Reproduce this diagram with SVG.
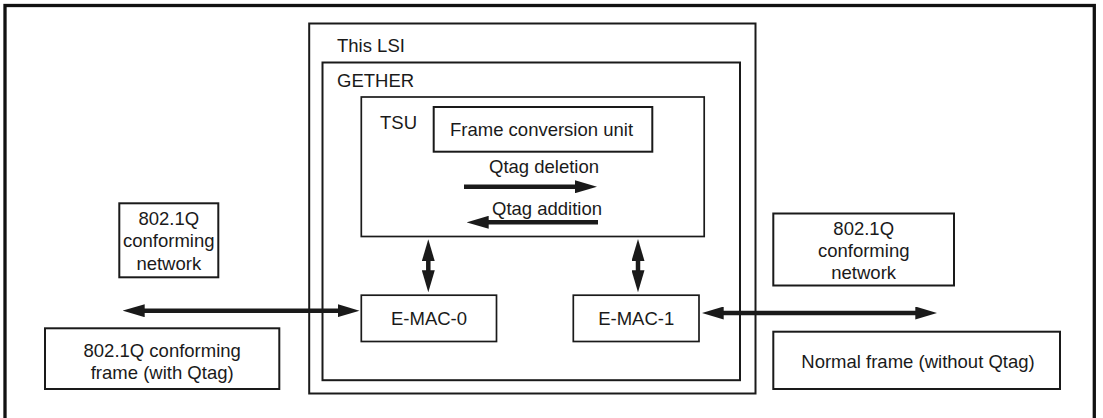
<svg xmlns="http://www.w3.org/2000/svg" width="1103" height="418" viewBox="0 0 1103 418">
<style>
  text { font-family: "Liberation Sans", Arial, Helvetica, sans-serif; font-size: 18.5px; fill: #1a1a1a; }
  .c { text-anchor: middle; }
  .box { fill: #ffffff; stroke: #1a1a1a; stroke-width: 2; }
  .thin { fill: #ffffff; stroke: #1a1a1a; stroke-width: 1.7; }
  .conn { stroke: #1a1a1a; stroke-width: 4.5; fill: none; }
</style>
<defs>
  <marker id="ah" markerUnits="userSpaceOnUse" markerWidth="22" markerHeight="13" viewBox="0 -6.5 22 13" refX="1" refY="0" orient="auto-start-reverse">
    <path d="M0,-6.5 L22,0 L0,6.5 z" fill="#1a1a1a"/>
  </marker>
</defs>
<rect width="1103" height="418" fill="#ffffff"/>
<g id="outer-frame">
  <rect x="5" y="5.5" width="1089.3" height="420" fill="none" stroke="#111" stroke-width="3.3"/>
</g>
<g id="lsi">
  <rect x="309.2" y="23.5" width="446.3" height="370" class="box" stroke-width="2.3"/>
  <text x="337" y="52">This LSI</text>
</g>
<g id="gether">
  <rect x="322.5" y="62.5" width="417.5" height="317.7" class="box" stroke-width="2.3"/>
  <text x="337" y="87">GETHER</text>
</g>
<g id="tsu">
  <rect x="361.3" y="97" width="342.9" height="139.5" class="thin"/>
  <text x="380" y="129">TSU</text>
</g>
<g id="frame-conversion-unit">
  <rect x="433.7" y="107" width="218.6" height="44.7" class="box"/>
  <text x="450" y="136">Frame conversion unit</text>
</g>
<g id="qtag-deletion-label">
  <text x="489" y="173">Qtag deletion</text>
</g>
<g id="qtag-addition-label">
  <text x="492" y="215">Qtag addition</text>
</g>
<g id="emac0">
  <rect x="361.3" y="295.2" width="135.2" height="46.3" class="thin"/>
  <text x="429" y="325" class="c">E-MAC-0</text>
</g>
<g id="emac1">
  <rect x="573.3" y="295.2" width="125.7" height="46.3" class="thin"/>
  <text x="636.2" y="325" class="c">E-MAC-1</text>
</g>
<g id="left-network">
  <rect x="119.3" y="203.3" width="99" height="74" class="box"/>
  <text x="168.8" y="224.5" class="c">802.1Q</text>
  <text x="168.8" y="247" class="c">conforming</text>
  <text x="168.8" y="269.5" class="c">network</text>
</g>
<g id="left-frame">
  <rect x="45" y="328.3" width="234.3" height="60.7" class="box"/>
  <text x="162.2" y="357" class="c">802.1Q conforming</text>
  <text x="162.2" y="378.5" class="c">frame (with Qtag)</text>
</g>
<g id="right-network">
  <rect x="773.3" y="213.5" width="180.7" height="72" class="box"/>
  <text x="863.7" y="234.5" class="c">802.1Q</text>
  <text x="863.7" y="256.5" class="c">conforming</text>
  <text x="863.7" y="278.5" class="c">network</text>
</g>
<g id="normal-frame">
  <rect x="773.3" y="331.7" width="286.7" height="57.3" class="box"/>
  <text x="918" y="368" class="c">Normal frame (without Qtag)</text>
</g>
<g id="connectors">
  <line x1="464" y1="186.7" x2="576" y2="186.7" class="conn" marker-end="url(#ah)"/>
  <line x1="598" y1="222.3" x2="487.7" y2="222.3" class="conn" marker-end="url(#ah)"/>
  <line x1="428.3" y1="260.3" x2="428.3" y2="271.3" class="conn" marker-start="url(#ah)" marker-end="url(#ah)"/>
  <line x1="638" y1="260" x2="638" y2="271.3" class="conn" marker-start="url(#ah)" marker-end="url(#ah)"/>
  <line x1="143.7" y1="310.7" x2="338.5" y2="310.7" class="conn" marker-start="url(#ah)" marker-end="url(#ah)"/>
  <line x1="722.7" y1="313" x2="916.3" y2="313" class="conn" marker-start="url(#ah)" marker-end="url(#ah)"/>
</g>
</svg>
